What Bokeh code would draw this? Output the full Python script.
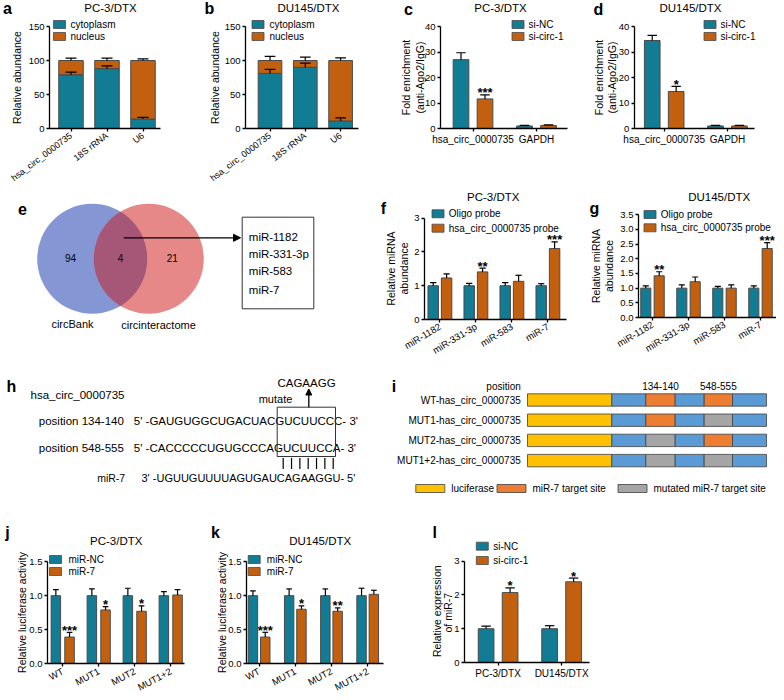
import numpy as np
from types import SimpleNamespace
from bokeh.plotting import figure
from bokeh.models import (Range1d, FixedTicker, PrintfTickFormatter, Arrow, NormalHead)
from bokeh.layouts import row, column
from bokeh.core.properties import value
from bokeh.embed import file_html
from bokeh.resources import INLINE

FONT = "Liberation Sans"
TEAL = "#127c94"
ORANGE = "#c2600f"
EDGE = "#4a4a4a"

# ---------------- data ----------------
a_cats = ["hsa_circ_0000735", "18S rRNA", "U6"]
a_cyto = [79, 88, 14]
a_cyto_err = [4, 4, 2.5]
a_nuc = [21, 12, 86]
a_nuc_err = [3.5, 3.5, 2.5]

b_cats = ["hsa_circ_0000735", "18S rRNA", "U6"]
b_cyto = [81, 90, 11]
b_cyto_err = [6, 6, 4.5]
b_nuc = [19, 10, 89]
b_nuc_err = [6, 5, 4]

cd_cats = ["hsa_circ_0000735", "GAPDH"]
cd_series = ["si-NC", "si-circ-1"]
c_nc = [27.0, 1.0]
c_nc_err = [2.7, 0.2]
c_si = [11.6, 1.2]
c_si_err = [1.6, 0.2]
c_sig = ["***", ""]
d_nc = [34.5, 1.0]
d_nc_err = [2.0, 0.2]
d_si = [14.5, 1.0]
d_si_err = [2.0, 0.2]
d_sig = ["*", ""]

venn_sets = ["circBank", "circinteractome"]
venn_counts = ["94", "4", "21"]
venn_common = ["miR-1182", "miR-331-3p", "miR-583", "miR-7"]

fg_cats = ["miR-1182", "miR-331-3p", "miR-583", "miR-7"]
fg_series = ["Oligo probe", "hsa_circ_0000735 probe"]
f_oligo = [1.0, 1.0, 1.0, 1.0]
f_oligo_err = [0.09, 0.07, 0.09, 0.06]
f_probe = [1.23, 1.41, 1.13, 2.10]
f_probe_err = [0.12, 0.11, 0.18, 0.20]
f_sig = ["", "**", "", "***"]
g_oligo = [1.0, 1.0, 1.0, 1.0]
g_oligo_err = [0.08, 0.11, 0.06, 0.08]
g_probe = [1.42, 1.22, 1.0, 2.35]
g_probe_err = [0.14, 0.16, 0.11, 0.20]
g_sig = ["**", "", "", "***"]

h_circ = "hsa_circ_0000735"
h_sites = ["position 134-140", "position 548-555"]
h_site_seqs = ["5' -GAUGUGGCUGACUACGUCUUCCC- 3'", "5' -CACCCCCUGUGCCCAGUCUUCCA- 3'"]
h_mir = "miR-7"
h_mir_seq = "3' -UGUUGUUUUAGUGAUCAGAAGGU- 5'"
h_mutant = "CAGAAGG"

i_constructs = ["WT-has_circ_0000735", "MUT1-has_circ_0000735",
                "MUT2-has_circ_0000735", "MUT1+2-has_circ_0000735"]
i_site1 = ["target", "target", "mutated", "mutated"]
i_site2 = ["target", "mutated", "target", "mutated"]
i_site_pos = ["134-140", "548-555"]
i_legend = ["luciferase", "miR-7 target site", "mutated miR-7 target site"]

jk_cats = ["WT", "MUT1", "MUT2", "MUT1+2"]
jk_series = ["miR-NC", "miR-7"]
j_nc = [1.0, 1.0, 1.0, 1.0]
j_nc_err = [0.09, 0.10, 0.11, 0.06]
j_mir = [0.39, 0.79, 0.77, 1.01]
j_mir_err = [0.07, 0.05, 0.08, 0.08]
j_sig = ["***", "*", "*", ""]
k_nc = [1.0, 1.0, 1.0, 1.0]
k_nc_err = [0.07, 0.10, 0.10, 0.11]
k_mir = [0.39, 0.80, 0.77, 1.02]
k_mir_err = [0.07, 0.05, 0.05, 0.06]
k_sig = ["***", "*", "**", ""]

l_cats = ["PC-3/DTX", "DU145/DTX"]
l_series = ["si-NC", "si-circ-1"]
l_nc = [1.0, 1.0]
l_nc_err = [0.08, 0.09]
l_si = [2.07, 2.39]
l_si_err = [0.14, 0.11]
l_sig = ["*", "*"]

# ---------------- helpers ----------------
def bar_panel(W, H, axis_x, axis_y, ytop_px, ytop_val, yticks, x0, xu, axis_end,
              yfmt=None, tick_size="9.5px"):
    pyu = (axis_y - ytop_px) / ytop_val
    X = lambda px: (px - x0) / xu
    Y = lambda py: (axis_y - py) / pyu
    p = figure(width=W, height=H, output_backend="svg", toolbar_location=None,
               x_range=Range1d(X(0), X(W)), y_range=Range1d(Y(H), Y(0)), min_border=0)
    p.outline_line_color = None
    p.grid.visible = False
    for ax in p.axis:
        ax.axis_line_color = "black"
        ax.axis_line_width = 1.3
        ax.major_tick_line_color = "black"
        ax.major_tick_line_width = 1.3
        ax.major_tick_out = 3
        ax.major_tick_in = 0
        ax.minor_tick_line_color = None
        ax.major_label_text_font = FONT
        ax.major_label_text_font_size = tick_size
        ax.major_label_text_color = "black"
        ax.major_label_standoff = 2
    p.yaxis.ticker = FixedTicker(ticks=yticks)
    p.yaxis.bounds = (0, ytop_val)
    p.yaxis.fixed_location = X(axis_x)
    p.xaxis.fixed_location = 0
    if yfmt:
        p.yaxis.formatter = PrintfTickFormatter(format=yfmt)
    p.xaxis.bounds = (X(axis_x), X(axis_end))
    c = SimpleNamespace(X=X, Y=Y)
    return p, c


def diagram(W, H):
    p = figure(width=W, height=H, output_backend="svg", toolbar_location=None,
               x_range=Range1d(0, W), y_range=Range1d(H, 0),
               x_axis_type=None, y_axis_type=None, min_border=0)
    p.outline_line_color = None
    return p


def ptext(p, c, x, y, text, size, align="center", angle=0.0, bold=False):
    p.text(x=[c.X(x)], y=[c.Y(y)], text=[text], text_align=align, text_baseline="middle",
           angle=angle, text_font=value(FONT), text_font_size=size, text_color="black",
           text_font_style="bold" if bold else "normal")


def dtext(p, x, y, text, size, align="left", bold=False):
    p.text(x=[x], y=[y], text=[text], text_align=align, text_baseline="middle",
           text_font=value(FONT), text_font_size=size, text_color="black",
           text_font_style="bold" if bold else "normal")


def legend(p, c, cx, rows_y, tx, labels, colors, size="10px"):
    for yy, lab, col in zip(rows_y, labels, colors):
        p.quad(left=[c.X(cx - 6)], right=[c.X(cx + 6)], top=[c.Y(yy - 4)], bottom=[c.Y(yy + 4)],
               fill_color=col, line_color=EDGE, line_width=0.8)
        ptext(p, c, tx, yy, lab, size, align="left")


def cat_labels(p, xs, cats, angle=0.0, standoff=2, size="10px"):
    p.xaxis.ticker = FixedTicker(ticks=[float(v) for v in xs])
    p.xaxis.major_label_overrides = {float(v): lab for v, lab in zip(xs, cats)}
    p.xaxis.major_label_text_font_size = size
    p.xaxis.major_label_standoff = standoff
    if angle:
        p.xaxis.major_label_orientation = angle


def errbars(p, xs, tops, errs, capw, lw=1.2):
    xs = np.asarray(xs, float)
    tops = np.asarray(tops, float)
    ends = tops + np.asarray(errs, float)
    p.segment(x0=xs, y0=tops, x1=xs, y1=ends, line_color="black", line_width=lw)
    p.segment(x0=xs - capw / 2, y0=ends, x1=xs + capw / 2, y1=ends, line_color="black", line_width=lw)


def stars(p, xs, tops, errs, sig, size="13px"):
    xs = np.asarray(xs, float)
    ys = np.asarray(tops, float) + np.asarray(errs, float)
    keep = [i for i, s in enumerate(sig) if s]
    p.text(x=xs[keep], y=ys[keep], text=[sig[i] for i in keep], text_align="center",
           text_baseline="alphabetic", y_offset=-2, text_font=value(FONT), text_font_size=size,
           text_font_style="bold", text_color="black")


def grouped(p, s1, e1, s2, e2, off, bw, sig=None):
    xs = np.arange(len(s1), dtype=float)
    for s, e, sign, col in ((s1, e1, -1, TEAL), (s2, e2, 1, ORANGE)):
        x = xs + sign * off
        p.vbar(x=x, width=bw, bottom=0, top=s, fill_color=col, line_color=EDGE, line_width=1)
        errbars(p, x, s, e, bw * 0.6)
    if sig is not None:
        stars(p, xs + off, s2, e2, sig)
    return xs


def stacked(p, cyto, cerr, nuc, nerr, bw):
    xs = np.arange(len(cyto), dtype=float)
    cyto = np.asarray(cyto, float)
    tot = cyto + np.asarray(nuc, float)
    p.vbar(x=xs, width=bw, bottom=0, top=cyto, fill_color=TEAL, line_color=EDGE, line_width=1)
    p.vbar(x=xs, width=bw, bottom=cyto, top=tot, fill_color=ORANGE, line_color=EDGE, line_width=1)
    errbars(p, xs, cyto, cerr, bw * 0.45)
    errbars(p, xs, tot, nerr, bw * 0.45)
    return xs

VERT = np.pi / 2
H1, H2, H3, H4 = 184, 174, 138, 196

# ---------------- row 1 ----------------
pa, ca = bar_panel(195, H1, 49, 128, 26, 150, [0, 50, 100, 150], 70.5, 36, 160)
xs = stacked(pa, a_cyto, a_cyto_err, a_nuc, a_nuc_err, 0.68)
ptext(pa, ca, 110, 7, "PC-3/DTX", "11.5px")
legend(pa, ca, 59, [24, 36], 70, ["cytoplasm", "nucleus"], [TEAL, ORANGE])
ptext(pa, ca, 7, 8, "a", "16px", bold=True)
ptext(pa, ca, 16, 77, "Relative abundance", "10.5px", angle=VERT)
cat_labels(pa, xs, a_cats, angle=0.65, standoff=3, size="9px")

pb, cb = bar_panel(195, H1, 50, 128, 26, 150, [0, 50, 100, 150], 74.5, 35.3, 163)
xs = stacked(pb, b_cyto, b_cyto_err, b_nuc, b_nuc_err, 0.67)
ptext(pb, cb, 113, 7, "DU145/DTX", "11.5px")
legend(pb, cb, 62.5, [24, 36], 74, ["cytoplasm", "nucleus"], [TEAL, ORANGE])
ptext(pb, cb, 14, 8, "b", "16px", bold=True)
ptext(pb, cb, 19, 77, "Relative abundance", "10.5px", angle=VERT)
cat_labels(pb, xs, b_cats, angle=0.65, standoff=3, size="9px")

pc, cc = bar_panel(195, H1, 50, 128, 26, 40, [0, 10, 20, 30, 40], 82.5, 63.5, 176.7)
xs = grouped(pc, c_nc, c_nc_err, c_si, c_si_err, 0.189, 0.247, c_sig)
ptext(pc, cc, 110, 7, "PC-3/DTX", "11.5px")
legend(pc, cc, 127.5, [24, 36], 138, cd_series, [TEAL, ORANGE])
ptext(pc, cc, 18, 9, "c", "16px", bold=True)
ptext(pc, cc, 15.3, 77, "Fold enrichment", "10.5px", angle=VERT)
ptext(pc, cc, 29.5, 77, "(anti-Ago2/IgG)", "10.5px", angle=VERT)
cat_labels(pc, xs, cd_cats)

pd_, cdd = bar_panel(191, H1, 48.7, 128, 26, 40, [0, 10, 20, 30, 40], 78.7, 63.3, 168.7)
xs = grouped(pd_, d_nc, d_nc_err, d_si, d_si_err, 0.189, 0.247, d_sig)
ptext(pd_, cdd, 105, 7, "DU145/DTX", "11.5px")
legend(pd_, cdd, 124.5, [24, 36], 135, cd_series, [TEAL, ORANGE])
ptext(pd_, cdd, 13, 9, "d", "16px", bold=True)
ptext(pd_, cdd, 13.5, 77, "Fold enrichment", "10.5px", angle=VERT)
ptext(pd_, cdd, 26, 77, "(anti-Ago2/IgG)", "10.5px", angle=VERT)
cat_labels(pd_, xs, cd_cats)

# ---------------- row 2 ----------------
pe = diagram(376, H2)
r_v, cy_v, cx1, cx2 = 55, 74.3, 91.7, 148.3
pe.circle(x=[cx1], y=[cy_v], radius=r_v, fill_color="#8496d4", line_color=None)
pe.circle(x=[cx2], y=[cy_v], radius=r_v, fill_color="#e68888", line_color=None)
th = np.arccos((cx2 - cx1) / (2 * r_v))
t1 = np.linspace(-th, th, 80)
t2 = np.linspace(np.pi - th, np.pi + th, 80)
pe.patch(np.concatenate([cx1 + r_v * np.cos(t1), cx2 + r_v * np.cos(t2)]),
         np.concatenate([cy_v + r_v * np.sin(t1), cy_v + r_v * np.sin(t2)]),
         fill_color="#a65676", line_color=None)
for xx, txt in zip([70, 120, 171.7], venn_counts):
    dtext(pe, xx, 73.3, txt, "10px", align="center")
dtext(pe, 72, 139, venn_sets[0], "11px", align="center")
dtext(pe, 158, 140, venn_sets[1], "11px", align="center")
dtext(pe, 22, 24, "e", "16px", align="center", bold=True)
pe.add_layout(Arrow(end=NormalHead(size=7, fill_color="black", line_color="black", line_width=1),
                    x_start=123.3, y_start=53.3, x_end=240, y_end=53.3, line_width=1.3,
                    line_color="black"))
pe.quad(left=[241.7], right=[313.3], top=[32.7], bottom=[124.3], fill_color=None,
        line_color="#333333", line_width=1)
for yy, txt in zip([52.7, 69.3, 86, 105], venn_common):
    dtext(pe, 248.3, yy, txt, "11.5px")

pf, cf = bar_panel(212, H2, 48, 135, 33.7, 3, [0, 1, 2, 3], 63.4, 36, 189.5)
xs = grouped(pf, f_oligo, f_oligo_err, f_probe, f_probe_err, 0.186, 0.29, f_sig)
ptext(pf, cf, 116.7, 12.7, "PC-3/DTX", "11.5px")
legend(pf, cf, 61.5, [29.3, 43.7], 72.3, fg_series, [TEAL, ORANGE])
ptext(pf, cf, 7, 24, "f", "16px", bold=True)
ptext(pf, cf, 14, 84, "Relative miRNA", "10.5px", angle=VERT)
ptext(pf, cf, 27, 84, "abundance", "10.5px", angle=VERT)
cat_labels(pf, xs, fg_cats, angle=0.54, standoff=3, size="9.5px")

pg, cg = bar_panel(188, H2, 50, 133, 30.3, 3.5, [0, 0.5, 1, 1.5, 2, 2.5, 3, 3.5], 64, 36, 188,
                   yfmt="%.1f")
xs = grouped(pg, g_oligo, g_oligo_err, g_probe, g_probe_err, 0.186, 0.28, g_sig)
ptext(pg, cg, 130.7, 12.7, "DU145/DTX", "11.5px")
legend(pg, cg, 61.5, [30, 43.3], 72.3, fg_series, [TEAL, ORANGE])
ptext(pg, cg, 6, 24, "g", "16px", bold=True)
ptext(pg, cg, 7.5, 81.5, "Relative miRNA", "10.5px", angle=VERT)
ptext(pg, cg, 20.5, 81.5, "abundance", "10.5px", angle=VERT)
cat_labels(pg, xs, fg_cats, angle=0.54, standoff=3, size="9.5px")

# ---------------- row 3 ----------------
ph = diagram(390, H3)
dtext(ph, 11, 28, "h", "16px", align="center", bold=True)
dtext(ph, 30, 36.7, h_circ, "11.5px")
for yy, lab, seq in zip([62.7, 89.3], h_sites, h_site_seqs):
    dtext(ph, 38.3, yy, lab, "11.5px")
    dtext(ph, 133.3, yy, seq, "11.5px")
dtext(ph, 96.7, 119.3, h_mir, "10.5px")
dtext(ph, 141, 119.3, h_mir_seq, "11px")
ph.quad(left=[276.7], right=[335], top=[48.7], bottom=[98], fill_color=None,
        line_color="#333333", line_width=1)
ph.add_layout(Arrow(end=NormalHead(size=6, fill_color="black", line_color="black", line_width=1),
                    x_start=308.3, y_start=48.7, x_end=308.3, y_end=30.5, line_width=1.3,
                    line_color="black"))
dtext(ph, 306, 24.5, h_mutant, "11.5px", align="center")
dtext(ph, 275, 40, "mutate", "11px", align="center")
pair_x = np.linspace(282.7, 332.7, len(h_mutant))
ph.segment(x0=pair_x, y0=[99.5] * len(h_mutant), x1=pair_x, y1=[110.5] * len(h_mutant),
           line_color="black", line_width=1.2)

pi_ = diagram(386, H3)
dtext(pi_, 3.5, 28, "i", "16px", align="center", bold=True)
dtext(pi_, 130.3, 27.7, "position", "10px", align="right")
SEGCOL = {"luciferase": "#FFC000", "backbone": "#5B9BD5", "target": "#ED7D31", "mutated": "#A5A5A5"}
bounds = np.array([137, 221.3, 255.3, 284.7, 313.7, 342, 376])
dtext(pi_, (bounds[2] + bounds[3]) / 2, 27.7, i_site_pos[0], "10px", align="center")
dtext(pi_, (bounds[4] + bounds[5]) / 2, 27.7, i_site_pos[1], "10px", align="center")
for k, (lab, s1, s2) in enumerate(zip(i_constructs, i_site1, i_site2)):
    yc = 41.5 + 20.2 * k
    kinds = ["luciferase", "backbone", s1, "backbone", s2, "backbone"]
    pi_.quad(left=bounds[:-1], right=bounds[1:], top=[yc - 6.2] * 6, bottom=[yc + 6.2] * 6,
             fill_color=[SEGCOL[t] for t in kinds], line_color="#404040", line_width=0.8)
    dtext(pi_, 130.3, yc, lab, "10px", align="right")
for lft, kind, lab in zip([25.3, 106.5, 227.5], ["luciferase", "target", "mutated"], i_legend):
    pi_.quad(left=[lft], right=[lft + 29], top=[126], bottom=[134], fill_color=SEGCOL[kind],
             line_color="#404040", line_width=0.8)
    dtext(pi_, lft + 35.5, 130, lab, "10px")

# ---------------- row 4 ----------------
pj, cj = bar_panel(208, H4, 47, 167, 65.3, 1.5, [0, 0.5, 1, 1.5], 62.2, 36, 184.3, yfmt="%.1f")
xs = grouped(pj, j_nc, j_nc_err, j_mir, j_mir_err, 0.19, 0.264, j_sig)
ptext(pj, cj, 115.7, 44.7, "PC-3/DTX", "11.5px")
legend(pj, cj, 55, [63, 75], 68, jk_series, [TEAL, ORANGE])
ptext(pj, cj, 7, 36, "j", "16px", bold=True)
ptext(pj, cj, 21.7, 116, "Relative luciferase activity", "10.5px", angle=VERT)
cat_labels(pj, xs, jk_cats, angle=0.49, standoff=4, size="9.5px")

pk, ck = bar_panel(222, H4, 38, 167, 65.3, 1.5, [0, 0.5, 1, 1.5], 50.6, 36.2, 175, yfmt="%.1f")
xs = grouped(pk, k_nc, k_nc_err, k_mir, k_mir_err, 0.17, 0.26, k_sig)
ptext(pk, ck, 111.7, 44.7, "DU145/DTX", "11.5px")
legend(pk, ck, 45.7, [63, 75], 58.3, jk_series, [TEAL, ORANGE])
ptext(pk, ck, 7, 36, "k", "16px", bold=True)
ptext(pk, ck, 13.5, 116, "Relative luciferase activity", "10.5px", angle=VERT)
cat_labels(pk, xs, jk_cats, angle=0.49, standoff=4, size="9.5px")

pl, cl = bar_panel(346, H4, 34, 166, 64.7, 3, [0, 1, 2, 3], 67.6, 63.5, 159.3)
xs = grouped(pl, l_nc, l_nc_err, l_si, l_si_err, 0.189, 0.247, l_sig)
legend(pl, cl, 51.8, [49.7, 64], 62.7, l_series, [TEAL, ORANGE])
ptext(pl, cl, 4.3, 36, "l", "16px", bold=True)
ptext(pl, cl, 6.5, 114.7, "Relative expression", "10.5px", angle=VERT)
ptext(pl, cl, 17, 114.7, "of  miR-7", "10.5px", angle=VERT)
cat_labels(pl, xs, l_cats)

layout = column(
    row(pa, pb, pc, pd_),
    row(pe, pf, pg),
    row(ph, pi_),
    row(pj, pk, pl),
)

open("out.html", "w").write(file_html(layout, INLINE))
